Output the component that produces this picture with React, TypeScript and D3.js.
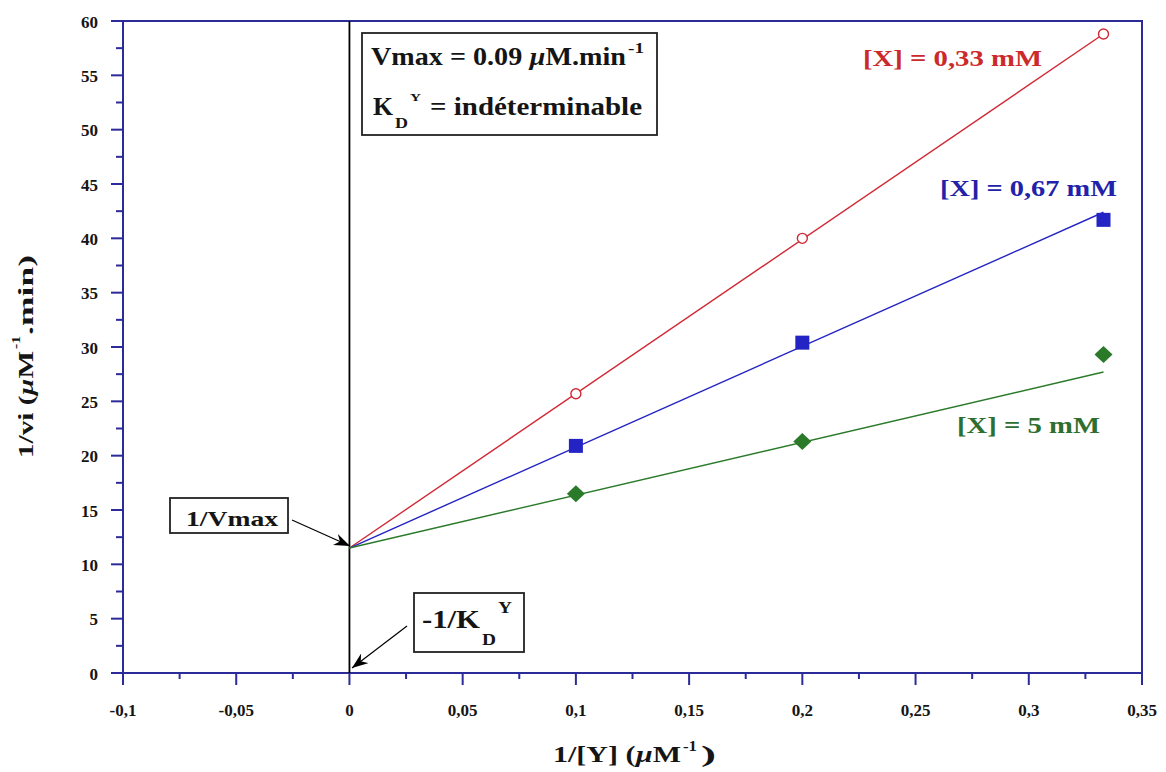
import React from "react";
import * as d3 from "d3";

const xTicks = [-0.1, -0.05, 0, 0.05, 0.1, 0.15, 0.2, 0.25, 0.3, 0.35];
const yTicks = [0, 5, 10, 15, 20, 25, 30, 35, 40, 45, 50, 55, 60];
const invY = [0.1, 0.2, 0.333];
const seriesNames = ["[X] = 0,33 mM", "[X] = 0,67 mM", "[X] = 5 mM"];
const redValues = [25.7, 40.0, 58.8];
const blueValues = [20.9, 30.4, 41.7];
const greenValues = [16.5, 21.3, 29.3];
const intercept = 11.5;
const fitEnds = [58.8, 42.4, 27.7]; // fitted line value at x = 0.333

const W = 1166, H = 772;
const M = { left: 123, right: 1142, top: 21, bottom: 673 };
const FONT = "'Liberation Serif', 'Times New Roman', 'DejaVu Serif', serif";
const AXIS = "#2b2b99";
const lineColors = ["#d02a36", "#2424c4", "#2a7a2a"];
const labelColors = ["#cc2a2a", "#2222a8", "#2e6e2e"];
const TXT = "#151515";

function ST(props: { x: number; y: number; size: number; anchor?: string; fill?: string; children: any; len?: number; rot?: number; italic?: boolean; adj?: string }) {
  const { x, y, size, anchor = "start", fill = TXT, children, len, rot = 0, italic, adj = "spacingAndGlyphs" } = props;
  return (
    <text transform={`translate(${x},${y})${rot ? ` rotate(${rot})` : ""}`} textAnchor={anchor} fontSize={size} fill={fill}
      style={{ fontFamily: FONT, fontWeight: "bold", fontStyle: italic ? "italic" : "normal" }}
      {...(len ? { textLength: len, lengthAdjust: adj } : {})}>
      {children}
    </text>
  );
}

export default function App() {
  const x = d3.scaleLinear().domain([-0.1, 0.35]).range([M.left, M.right]);
  const y = d3.scaleLinear().domain([0, 60]).range([M.bottom, M.top]);
  const fmt = (v: number) => (Math.abs(v) < 1e-9 ? "0" : String(+v.toFixed(3)).replace(".", ","));
  const xMinor = d3.range(-0.075, 0.35, 0.05);
  const yMinor = d3.range(2.5, 60, 5);
  const data = [redValues, blueValues, greenValues];
  const line = d3.line<[number, number]>().x(d => x(d[0])).y(d => y(d[1]));

  return (
    <svg width={W} height={H} style={{ position: "absolute", left: 0, top: 0, background: "#fff" }}>
      <defs>
        <marker id="arr" viewBox="0 0 16 12" refX="16" refY="6" markerWidth="16" markerHeight="12" orient="auto" markerUnits="userSpaceOnUse">
          <path d="M0,0 L16,6 L0,12 L5,6 Z" fill="#000" />
        </marker>
      </defs>
      {/* frame */}
      <rect x={M.left} y={M.top} width={M.right - M.left} height={M.bottom - M.top} fill="none" stroke={AXIS} strokeWidth={2} />
      {/* x ticks */}
      {xTicks.map(t => (
        <g key={"xt" + t}>
          <line x1={x(t)} x2={x(t)} y1={M.bottom} y2={M.bottom + 12} stroke={AXIS} strokeWidth={2} />
          <ST x={x(t)} y={716} size={17} anchor="middle">{fmt(t)}</ST>
        </g>
      ))}
      {xMinor.map(t => (
        <line key={"xm" + t} x1={x(t)} x2={x(t)} y1={M.bottom} y2={M.bottom + 6} stroke={AXIS} strokeWidth={2} />
      ))}
      {/* y ticks */}
      {yTicks.map(t => (
        <g key={"yt" + t}>
          <line x1={M.left - 12} x2={M.left} y1={y(t)} y2={y(t)} stroke={AXIS} strokeWidth={2} />
          <ST x={98} y={y(t) + 6.5} size={17} anchor="end">{t}</ST>
        </g>
      ))}
      {yMinor.map(t => (
        <line key={"ym" + t} x1={M.left - 7} x2={M.left} y1={y(t)} y2={y(t)} stroke={AXIS} strokeWidth={2} />
      ))}
      {/* vertical line at x=0 */}
      <line x1={x(0)} x2={x(0)} y1={M.top} y2={M.bottom} stroke="#000" strokeWidth={1.8} />
      {/* fitted lines */}
      {fitEnds.map((v, i) => (
        <path key={"l" + i} d={line([[0, intercept], [invY[2], v]]) || ""} stroke={lineColors[i]} strokeWidth={1.4} fill="none" />
      ))}
      {/* markers */}
      {data[0].map((v, j) => (
        <circle key={"r" + j} cx={x(invY[j])} cy={y(v)} r={5} fill="#fff" stroke={lineColors[0]} strokeWidth={1.4} />
      ))}
      {data[1].map((v, j) => (
        <rect key={"b" + j} x={x(invY[j]) - 7} y={y(v) - 7} width={14} height={14} fill={lineColors[1]} />
      ))}
      {data[2].map((v, j) => (
        <path key={"g" + j} d={`M${x(invY[j])},${y(v) - 8.5} l9,8.5 l-9,8.5 l-9,-8.5 Z`} fill={lineColors[2]} />
      ))}
      {/* series labels */}
      <ST x={863} y={66} size={23} fill={labelColors[0]} len={179}>{seriesNames[0]}</ST>
      <ST x={940} y={196} size={23} fill={labelColors[1]} len={177}>{seriesNames[1]}</ST>
      <ST x={957} y={433} size={23} fill={labelColors[2]} len={143}>{seriesNames[2]}</ST>
      {/* info box */}
      <rect x={362} y={33} width={295} height={102} fill="#fff" stroke="#222" strokeWidth={1.8} />
      <ST x={371} y={65} size={26} len={255}>
        Vmax = 0.09 <tspan fontStyle="italic">µ</tspan>M.min
      </ST>
      <ST x={628} y={53} size={14} len={16}>-1</ST>
      <ST x={373} y={115} size={25} len={20}>K</ST>
      <ST x={395} y={128} size={15} len={13}>D</ST>
      <ST x={410} y={101} size={10} len={11}>Y</ST>
      <ST x={430} y={115} size={25} len={212}>= indéterminable</ST>
      {/* 1/Vmax annotation */}
      <rect x={170} y={498} width={118} height={35} fill="#fff" stroke="#222" strokeWidth={1.8} />
      <ST x={186} y={526} size={22} len={92}>1/Vmax</ST>
      <line x1={292} x2={350} y1={520} y2={546} stroke="#000" strokeWidth={1.2} markerEnd="url(#arr)" />
      {/* -1/KD annotation */}
      <rect x={414} y={593} width={110} height={59} fill="#fff" stroke="#222" strokeWidth={1.8} />
      <ST x={422} y={628} size={25} len={58}>-1/K</ST>
      <ST x={482} y={645} size={16} len={14}>D</ST>
      <ST x={498} y={613} size={17} len={14}>Y</ST>
      <line x1={407} x2={352} y1={626} y2={668} stroke="#000" strokeWidth={1.2} markerEnd="url(#arr)" />
      {/* x axis title */}
      <ST x={553} y={762} size={24} len={128}>
        1/[Y] (<tspan fontStyle="italic">µ</tspan>M
      </ST>
      <ST x={683} y={751} size={15} len={14}>-1</ST>
      <ST x={701} y={762} size={24} len={15}>)</ST>
      {/* y axis title */}
      <ST x={33} y={458} size={21} rot={-90} len={107}>
        1/vi (<tspan fontStyle="italic">µ</tspan>M
      </ST>
      <ST x={20} y={349} size={13} rot={-90} len={13}>-1</ST>
      <ST x={33} y={335} size={22} rot={-90} len={80}>.min)</ST>
    </svg>
  );
}
